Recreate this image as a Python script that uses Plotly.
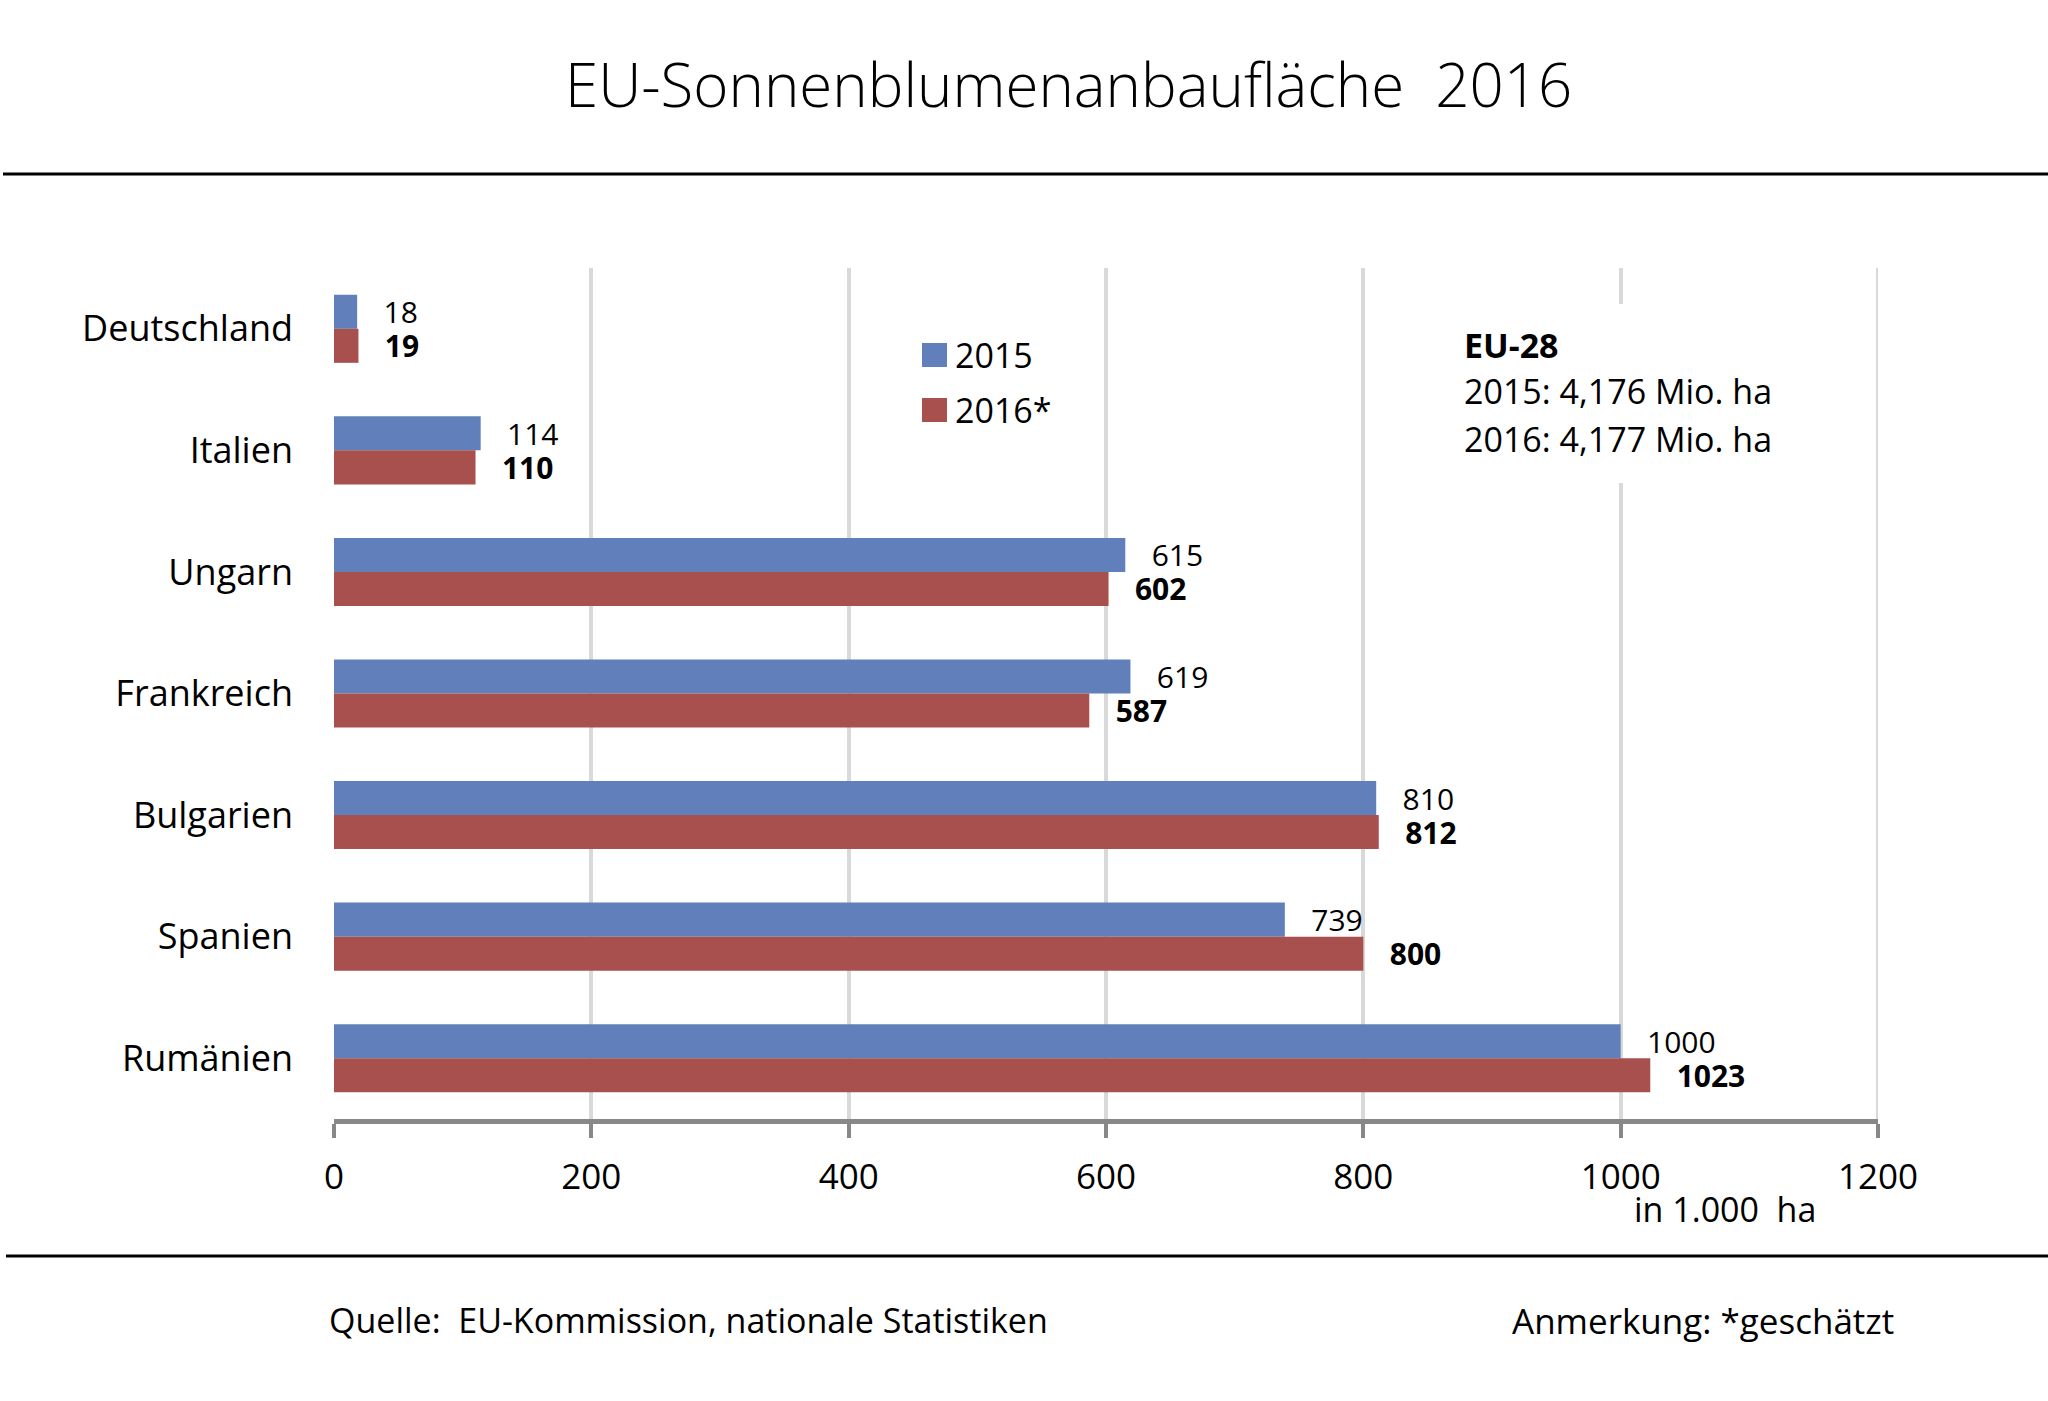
import plotly.graph_objects as go

# %%
countries = ["Deutschland", "Italien", "Ungarn", "Frankreich", "Bulgarien", "Spanien", "Rumänien"]
area_2015 = [18, 114, 615, 619, 810, 739, 1000]
area_2016 = [19, 110, 602, 587, 812, 800, 1023]
x_ticks = [0, 200, 400, 600, 800, 1000, 1200]

title = "EU-Sonnenblumenanbaufläche\u00a0 2016"
eu_lines = ["<b>EU-28</b>", "2015: 4,176 Mio. ha", "2016: 4,177 Mio. ha"]

BLUE = "#6180BB"
RED = "#A8504E"
GRID = "#d9d9d9"
FONT = "Open Sans"

W, H = 2048, 1401
L, R, T, B = 334, 170, 268, 282
PW, PH = W - L - R, H - T - B


def px(x, y):
    # pixel position (from top-left) -> paper coords
    return (x - L) / PW, (H - B - y) / PH


# %%
pad = "\u00a0\u00a0\u00a0"
fig = go.Figure()
fig.add_trace(
    go.Bar(
        y=countries,
        x=area_2015,
        orientation="h",
        name="2015",
        marker=dict(color=BLUE, line=dict(width=0)),
        text=[pad + str(v) for v in area_2015],
        textposition="outside",
        textangle=0,
        constraintext="none",
        cliponaxis=False,
        textfont=dict(family=FONT, size=30, color="black"),
        showlegend=False,
    )
)
fig.add_trace(
    go.Bar(
        y=countries,
        x=area_2016,
        orientation="h",
        name="2016*",
        marker=dict(color=RED, line=dict(width=0)),
        text=[pad + "<b>" + str(v) + "</b>" for v in area_2016],
        textposition="outside",
        textangle=0,
        constraintext="none",
        cliponaxis=False,
        textfont=dict(family=FONT, size=30, color="black"),
        showlegend=False,
    )
)

fig.update_layout(
    width=W,
    height=H,
    margin=dict(l=L, r=R, t=T, b=B),
    paper_bgcolor="white",
    plot_bgcolor="white",
    barmode="group",
    bargap=0.44,
    bargroupgap=0,
    font=dict(family=FONT, color="black"),
)
fig.update_xaxes(
    range=[0, 1200],
    tickvals=x_ticks,
    showgrid=True,
    gridcolor=GRID,
    gridwidth=4,
    zeroline=False,
    showline=True,
    linecolor="#888888",
    linewidth=5,
    ticks="outside",
    ticklen=14,
    tickwidth=4,
    tickcolor="#888888",
    ticklabelstandoff=9,
    tickfont=dict(family=FONT, size=35, color="black"),
)
fig.update_yaxes(
    type="category",
    categoryorder="array",
    categoryarray=countries,
    range=[len(countries) - 0.5, -0.5],
    showgrid=False,
    zeroline=False,
    showline=False,
    ticks="",
    ticklabelstandoff=40,
    tickfont=dict(family=FONT, size=36, color="black"),
)

shapes = []
# gridline at the right end of the range (plotly skips it)
shapes.append(dict(type="line", xref="x", yref="paper", layer="below",
                   x0=x_ticks[-1], x1=x_ticks[-1], y0=0, y1=1,
                   line=dict(color=GRID, width=4)))
# horizontal rules
shapes.append(dict(type="line", xref="paper", yref="paper",
                   x0=px(3, 0)[0], x1=px(W, 0)[0], y0=px(0, 174)[1], y1=px(0, 174)[1],
                   line=dict(color="black", width=3)))
shapes.append(dict(type="line", xref="paper", yref="paper",
                   x0=px(6, 0)[0], x1=px(W, 0)[0], y0=px(0, 1256)[1], y1=px(0, 1256)[1],
                   line=dict(color="black", width=3)))
# white box behind EU-28 text
shapes.append(dict(type="rect", xref="paper", yref="paper", layer="above",
                   x0=px(1460, 0)[0], x1=px(1785, 0)[0], y0=px(0, 304)[1], y1=px(0, 483)[1],
                   fillcolor="white", line=dict(width=0)))
# legend squares
for color, yc in [(BLUE, 355), (RED, 410)]:
    shapes.append(dict(type="rect", xref="paper", yref="paper", layer="above",
                       x0=px(922, 0)[0], x1=px(947, 0)[0],
                       y0=px(0, yc - 12)[1], y1=px(0, yc + 12)[1],
                       fillcolor=color, line=dict(width=0)))

annotations = []


def add_text(text, x, y, size, xanchor="left", weight=None):
    fx, fy = px(x, y)
    f = dict(family=FONT, size=size, color="black")
    if weight:
        f["weight"] = weight
    annotations.append(dict(text=text, x=fx, y=fy, xref="paper", yref="paper",
                            xanchor=xanchor, yanchor="middle", showarrow=False, font=f))


add_text(title, 1068, 84, 60, xanchor="center", weight=300)
add_text("2015", 953, 355, 34)
add_text("2016*", 953, 410, 34)
for line, yy in zip(eu_lines, [345, 391, 439]):
    add_text(line, 1462, yy, 34)
add_text("in 1.000\u00a0 ha", 1725, 1209, 34, xanchor="center")
add_text("Quelle:\u00a0 EU-Kommission, nationale Statistiken", 327, 1320, 34)
add_text("Anmerkung: *geschätzt", 1896, 1320, 35, xanchor="right")

fig.update_layout(shapes=shapes, annotations=annotations)

fig.write_html(
    "out.html",
    config={"displayModeBar": False},
    post_script="document.body.style.margin='0';document.body.style.overflow='hidden';",
)
